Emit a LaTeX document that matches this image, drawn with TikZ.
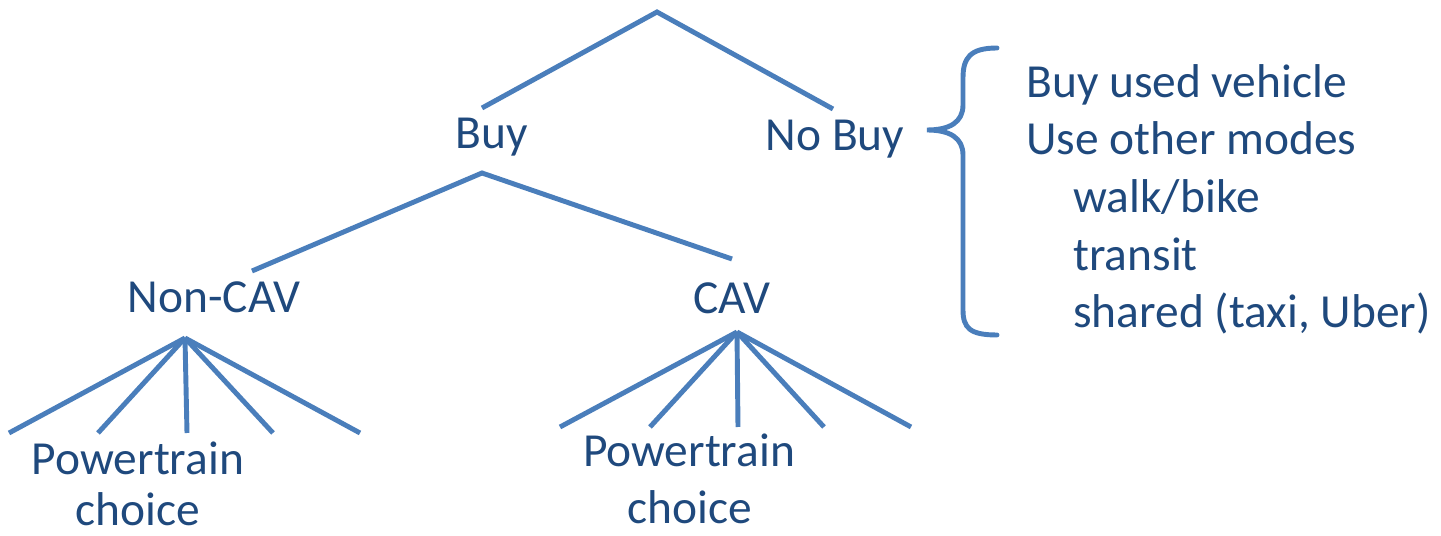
\documentclass[tikz,border=0pt]{standalone}
\usepackage{fontspec}
\setmainfont{Carlito}
\definecolor{linkblue}{HTML}{4A7EBB}
\definecolor{textblue}{HTML}{1F497D}

\begin{document}
\begin{tikzpicture}[x=0.02cm,y=-0.02cm,
    branch/.style={draw=linkblue,line width=2.8pt},
    lbl/.style={text=textblue,inner sep=0pt,font=\fontsize{27}{33}\selectfont}]
  \useasboundingbox (0,0) rectangle (1441,536);

  % Top split
  \coordinate (root) at (657,12);
  \coordinate (buytop) at (482,108);
  \coordinate (nobuytop) at (833,109);
  \draw[branch] (buytop) -- (root) -- (nobuytop);
  \node[lbl,anchor=base] (buy) at (492,149) {Buy};
  \node[lbl,anchor=base] (nobuy) at (835,151) {No Buy};

  % Buy split
  \coordinate (buyroot) at (482,173);
  \coordinate (noncavtop) at (252,271);
  \coordinate (cavtop) at (732,259);
  \draw[branch] (noncavtop) -- (buyroot) -- (cavtop);
  \node[lbl,anchor=base] (noncav) at (214,313) {Non-CAV};
  \node[lbl,anchor=base] (cav) at (732,314) {CAV};

  % Powertrain fans
  \coordinate (noncavroot) at (185,338);
  \foreach \x in {9,98,187,273,360} {
    \draw[branch] (noncavroot) -- (\x,433);
  }
  \coordinate (cavroot) at (737,332);
  \foreach \x in {560,650,738,824,911} {
    \draw[branch] (cavroot) -- (\x,427);
  }
  \node[lbl,anchor=base] (ptleft) at (138,475) {Powertrain};
  \node[lbl,anchor=base] (chleft) at (138,526) {choice};
  \node[lbl,anchor=base] (ptright) at (689,467) {Powertrain};
  \node[lbl,anchor=base] (chright) at (690,524) {choice};

  % Brace
  \draw[branch,line cap=round] (997,48) .. controls (970,48) and (963,58) .. (963,78)
    -- (963,105) .. controls (963,122) and (950,130) .. (927,130)
    .. controls (950,130) and (963,138) .. (963,155)
    -- (963,310) .. controls (963,328) and (970,335) .. (997,335);

  % Alternatives
  \node[lbl,anchor=base west] (used) at (1026,98) {Buy used vehicle};
  \node[lbl,anchor=base west] (modes) at (1026,155) {Use other modes};
  \node[lbl,anchor=base west] (walk) at (1073,213) {walk/bike};
  \node[lbl,anchor=base west] (transit) at (1073,271) {transit};
  \node[lbl,anchor=base west] (shared) at (1073,328) {shared (taxi, Uber)};
\end{tikzpicture}
\end{document}
